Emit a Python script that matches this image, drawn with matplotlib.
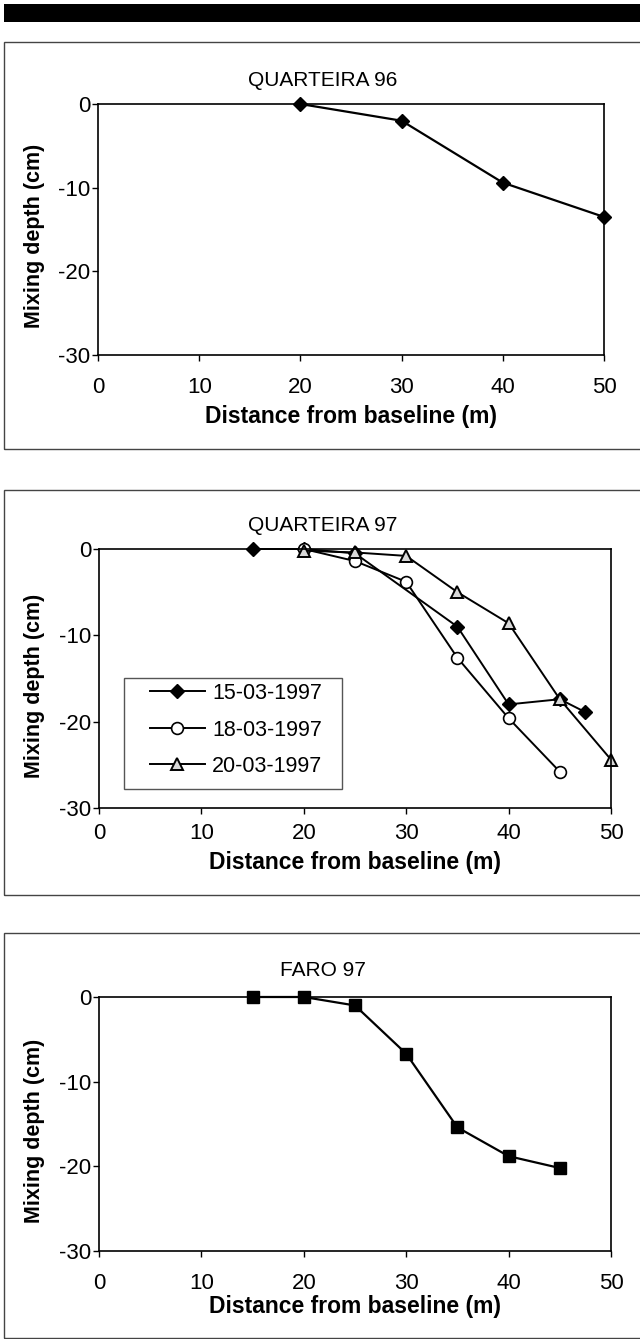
import matplotlib
matplotlib.use("Agg")
import matplotlib.pyplot as plt
from matplotlib.patches import Rectangle

plt.rcParams['font.family'] = ['Liberation Sans', 'DejaVu Sans']
plt.rcParams['axes.unicode_minus'] = False

# --- data ---
q96_x = [20, 30, 40, 50]
q96_y = [0, -2.0, -9.4, -13.5]

d1503_x = [15, 20, 25, 35, 40, 45, 47.5]
d1503_y = [0, 0, -0.5, -9.0, -18.0, -17.4, -18.9]
d1803_x = [20, 25, 30, 35, 40, 45]
d1803_y = [0, -1.4, -3.8, -12.6, -19.6, -25.8]
d2003_x = [20, 25, 30, 35, 40, 45, 50]
d2003_y = [-0.2, -0.4, -0.8, -5.0, -8.6, -17.4, -24.4]
legend_labels = ["15-03-1997", "18-03-1997", "20-03-1997"]

faro_x = [15, 20, 25, 30, 35, 40, 45]
faro_y = [0, 0, -1.0, -6.7, -15.4, -18.8, -20.2]

titles = ["QUARTEIRA 96", "QUARTEIRA 97", "FARO 97"]
xlab = "Distance from baseline (m)"
ylab = "Mixing depth (cm)"

W, H = 640, 1339
fig = plt.figure(figsize=(W / 100, H / 100), dpi=100)


def px_axes(left, top, right, bottom):
    return fig.add_axes([left / W, 1 - bottom / H, (right - left) / W, (bottom - top) / H])


def frame(top, bottom):
    fig.patches.append(Rectangle((4 / W, 1 - bottom / H), 700 / W, (bottom - top) / H,
                                 transform=fig.transFigure, fill=False,
                                 edgecolor="#444444", lw=1.0, clip_on=False))


def style(ax, xpad):
    ax.set_xlim(0, 50)
    ax.set_ylim(-30, 0)
    ax.set_xticks([0, 10, 20, 30, 40, 50])
    ax.set_yticks([0, -10, -20, -30])
    for s in ax.spines.values():
        s.set_linewidth(1.2)
        s.set_color("black")
    ax.tick_params(axis="x", direction="out", length=4, width=1, labelsize=16, pad=xpad)
    ax.tick_params(axis="y", direction="out", length=4, width=1, labelsize=16, pad=1.5)


# top black bar
fig.patches.append(Rectangle((4 / W, 1 - 22 / H), 640 / W, 18 / H, transform=fig.transFigure,
                             facecolor="black", edgecolor="none"))

# panel frames
frame(42, 449)
frame(490, 895)
frame(933, 1338)

# ---- panel 1 ----
ax1 = px_axes(98, 104, 604, 355)
ax1.plot(q96_x, q96_y, color="black", lw=1.6, marker="D", ms=7, mfc="black", mec="black",
         clip_on=False)
style(ax1, 11.5)

# ---- panel 2 ----
ax2 = px_axes(99, 549, 611, 808)
ax2.plot(d1503_x, d1503_y, color="black", lw=1.4, marker="D", ms=7, mfc="black", mec="black",
         clip_on=False, label=legend_labels[0])
ax2.plot(d1803_x, d1803_y, color="black", lw=1.4, marker="o", ms=8.5, mfc="white", mec="black",
         mew=1.2, clip_on=False, label=legend_labels[1])
ax2.plot(d2003_x, d2003_y, color="black", lw=1.4, marker="^", ms=9, mfc="#d8d8d8", mec="black",
         mew=1.4, clip_on=False, label=legend_labels[2])
style(ax2, 7)
leg = ax2.legend(loc="center left", bbox_to_anchor=((150 - 99) / 512, (808 - 730) / 259),
                 frameon=False, borderpad=0, borderaxespad=0, fontsize=15.5, handlelength=2.55,
                 handletextpad=0.33, labelspacing=0.72, numpoints=1)
ax2.add_patch(Rectangle(((124 - 99) / 512, (808 - 789) / 259), 218 / 512, 111 / 259,
                        transform=ax2.transAxes, fill=False, edgecolor="#555555", lw=1.0))

# ---- panel 3 ----
ax3 = px_axes(99, 997, 611, 1251)
ax3.plot(faro_x, faro_y, color="black", lw=1.6, marker="s", ms=9, mfc="black", mec="black",
         clip_on=False)
style(ax3, 11.5)

# titles and axis labels
for t, y in zip(titles, [80, 526, 971]):
    fig.text(323 / W, 1 - y / H, t, ha="center", va="center", fontsize=15)
for x, y in zip([351, 355, 355], [417, 863, 1307]):
    fig.text(x / W, 1 - y / H, xlab, ha="center", va="center", fontsize=16.5, fontweight="bold")
for y in [236, 686, 1131]:
    fig.text(35 / W, 1 - y / H, ylab, ha="center", va="center", rotation=90,
             fontsize=15.5, fontweight="bold")

fig.savefig("out.png", dpi=100)
